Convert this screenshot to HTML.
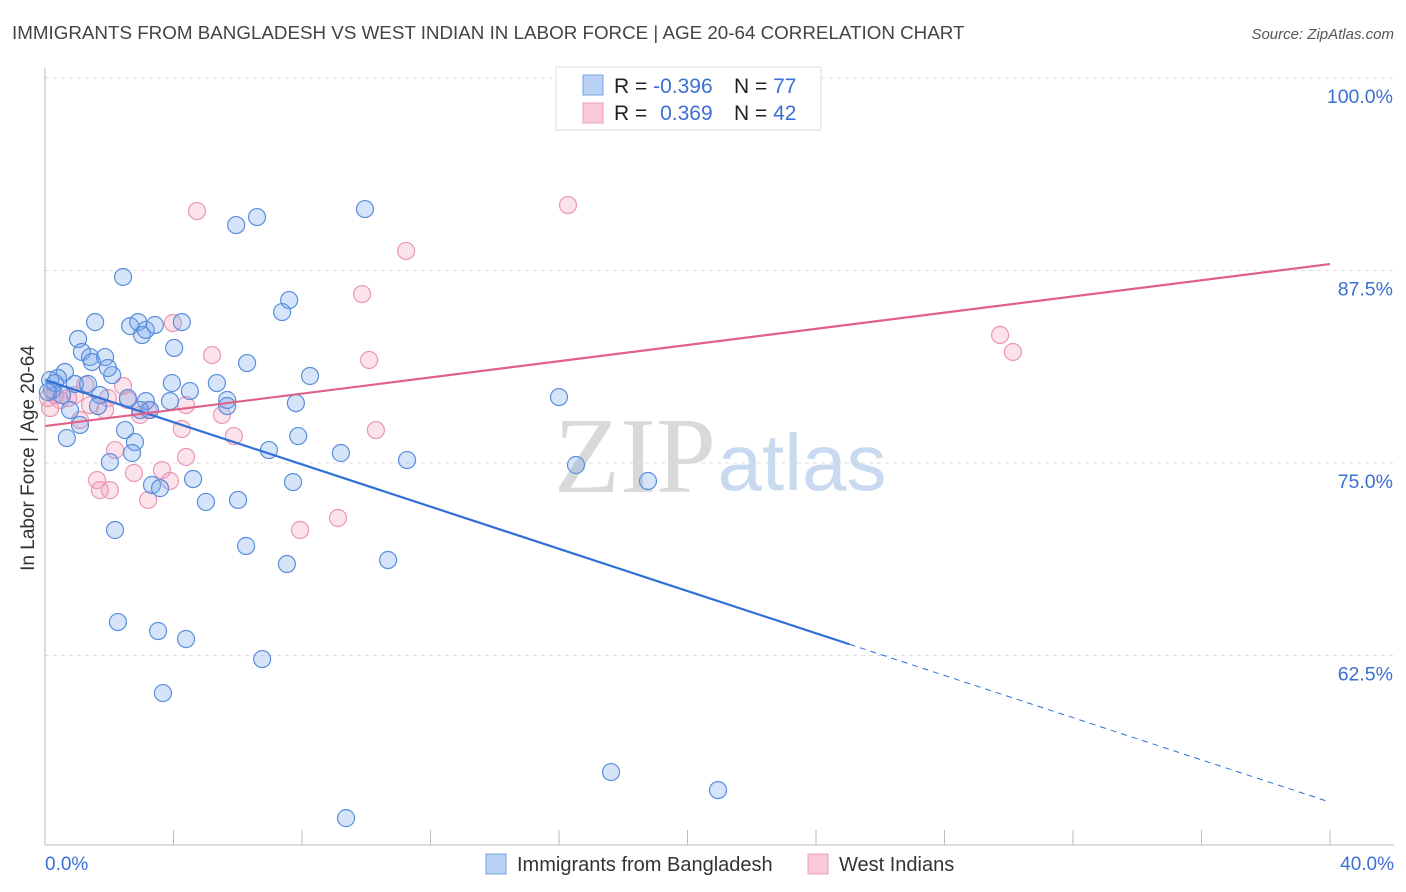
<!DOCTYPE html>
<html><head><meta charset="utf-8">
<style>
body{margin:0;background:#fff;font-family:"Liberation Sans",sans-serif;}
#wrap{position:relative;width:1406px;height:892px;overflow:hidden;}
svg{position:absolute;left:0;top:0;}
</style></head>
<body>
<div id="wrap">
<svg id="chart" width="1406" height="892">
<text x="12" y="39" font-size="18.8" fill="#444">IMMIGRANTS FROM BANGLADESH VS WEST INDIAN IN LABOR FORCE | AGE 20-64 CORRELATION CHART</text>
<text x="1394" y="39" font-size="15" fill="#555" font-style="italic" text-anchor="end">Source: ZipAtlas.com</text>
<text x="635" y="492" font-size="108" fill="#d9d9d9" font-family="Liberation Serif,serif" text-anchor="middle">ZIP</text>
<text x="802" y="490" font-size="80" fill="#c8d9f0" text-anchor="middle">atlas</text>
<text transform="translate(34,458) rotate(-90)" font-size="19" fill="#333" text-anchor="middle">In Labor Force | Age 20-64</text>
<g id="grid"></g><g id="marks"></g>
<line x1="45" y1="68" x2="45" y2="845" stroke="#bbb"/>
<line x1="45" y1="845" x2="1394" y2="845" stroke="#bbb"/>
<text x="45" y="870" font-size="19" fill="#3b6fd4">0.0%</text>
<text x="1394" y="870" font-size="19" fill="#3b6fd4" text-anchor="end">40.0%</text>
<g>
<rect x="486" y="854" width="20" height="20" fill="#b9d1f5" stroke="#7aa3e0"/>
<text x="517" y="871" font-size="20" fill="#333">Immigrants from Bangladesh</text>
<rect x="808" y="854" width="20" height="20" fill="#f9c9d8" stroke="#eaa0b8"/>
<text x="839" y="871" font-size="20" fill="#333">West Indians</text>
</g>
<g>
<rect x="556" y="67" width="265" height="63" fill="#fff" stroke="#ddd"/>
<rect x="583" y="75" width="20" height="20" fill="#b9d1f5" stroke="#7aa3e0"/>
<rect x="583" y="103" width="20" height="20" fill="#f9c9d8" stroke="#eaa0b8"/>
<text x="614" y="93" font-size="21" fill="#222">R = <tspan fill="#3b6fd4">-0.396</tspan></text>
<text x="734" y="93" font-size="21" fill="#222">N = <tspan fill="#3b6fd4">77</tspan></text>
<text x="614" y="120" font-size="21" fill="#222">R = <tspan fill="#3b6fd4" dx="7">0.369</tspan></text>
<text x="734" y="120" font-size="21" fill="#222">N = <tspan fill="#3b6fd4">42</tspan></text>
</g>
</svg>
</div>
<script>
const yTicks=[100,87.5,75,62.5];
const yTickLabels=["100.0%","87.5%","75.0%","62.5%"];
const xTickVals=[0,4,8,12,16,20,24,28,32,36,40];
const blueX=[2.43,1.56,1.03,1.15,1.40,1.46,1.87,0.62,0.40,0.16,0.31,0.22,0.93,1.34,1.71,0.78,1.09,0.68,2.09,2.65,2.90,3.02,3.14,3.42,4.26,4.02,3.95,2.49,2.80,2.71,2.02,3.33,3.58,4.61,5.01,6.01,2.18,2.27,3.52,4.39,3.67,6.76,6.26,7.53,7.72,6.97,7.88,7.81,8.25,7.38,7.60,6.29,5.35,4.51,5.67,5.67,3.89,3.14,3.27,5.95,6.60,9.96,9.21,11.27,10.68,16.00,16.53,18.77,17.62,20.95,9.37,2.58,1.65,0.53,0.09,1.96,2.96];
const blueY=[87.08,84.15,83.05,82.21,81.88,81.56,81.88,80.91,80.52,80.39,80.19,79.74,80.13,80.13,79.41,78.44,77.47,76.62,80.71,83.89,84.15,83.31,83.64,83.96,84.15,82.47,80.19,77.14,76.36,75.65,75.06,73.57,73.37,73.96,72.47,72.60,70.65,64.67,64.09,63.57,60.06,62.27,69.61,68.44,73.76,75.84,76.75,78.89,80.65,84.80,85.58,81.49,80.19,79.67,79.09,78.70,79.02,79.02,78.44,90.45,90.97,91.49,75.65,75.19,68.70,79.28,74.87,73.83,54.93,53.76,51.94,79.22,78.70,79.41,79.61,81.17,78.44];
const pinkX=[4.73,16.28,11.24,9.87,29.73,30.13,10.09,5.20,3.98,2.43,2.58,4.39,5.51,5.88,10.30,4.26,2.96,3.21,2.18,2.77,3.64,4.39,3.89,3.21,1.62,1.71,2.02,7.94,9.12,1.87,1.25,0.47,0.16,0.93,1.40,0.72,0.31,1.09,1.96,0.09];
const pinkY=[91.36,91.75,88.77,85.97,83.31,82.21,81.69,82.01,84.09,80.00,79.09,78.76,78.12,76.75,77.14,77.21,78.12,78.44,75.84,74.35,74.54,75.39,73.83,72.60,73.89,73.24,73.24,70.65,71.43,78.44,80.06,79.09,78.57,79.41,78.76,79.22,79.41,77.79,79.22,79.22];
const blueTrend=[80.39,52.98];
const blueSolidEnd=25.04;
const pinkTrend=[77.4,87.92];

const NS="http://www.w3.org/2000/svg";
const sx=v=>45+v/40*1285;
const sy=v=>78+(100-v)*15.4;
function mk(tag,attrs,parent){const e=document.createElementNS(NS,tag);for(const k in attrs)e.setAttribute(k,attrs[k]);parent.appendChild(e);return e;}
const grid=document.getElementById('grid'),marks=document.getElementById('marks');
yTicks.forEach((t,i)=>{
  const l=mk('line',{x1:45,x2:1394,y1:sy(t),y2:sy(t),stroke:'#ddd','stroke-dasharray':'4,4'},grid);
  
  
  const tx=mk('text',{x:1393,y:sy(t)+25,'font-size':19.5,fill:'#3b6fd4','text-anchor':'end'},grid);
  tx.textContent=yTickLabels[i];
  
  
});
xTickVals.forEach(t=>{
  const l=mk('line',{x1:sx(t),x2:sx(t),y1:830,y2:845,stroke:'#bbb'},grid);
  
  
});
pinkX.forEach((x,i)=>{
  const c=mk('circle',{cx:sx(x),cy:sy(pinkY[i]),r:8.5,fill:'rgba(243,160,188,0.3)',stroke:'#e997b3','stroke-width':1.2},marks);
  
  
});
blueX.forEach((x,i)=>{
  const c=mk('circle',{cx:sx(x),cy:sy(blueY[i]),r:8.5,fill:'rgba(120,165,235,0.3)',stroke:'#5a8edb','stroke-width':1.2},marks);
  
  
});
const bAt=x=>blueTrend[0]+(blueTrend[1]-blueTrend[0])*x/40;
let l1=mk('line',{x1:sx(0),y1:sy(blueTrend[0]),x2:sx(blueSolidEnd),y2:sy(bAt(blueSolidEnd)),stroke:'#2f6fd6','stroke-width':2.2},marks);


let l2=mk('line',{x1:sx(blueSolidEnd),y1:sy(bAt(blueSolidEnd)),x2:sx(40),y2:sy(blueTrend[1]),stroke:'#2f6fd6','stroke-width':1,'stroke-dasharray':'6,5'},marks);


let l3=mk('line',{x1:sx(0),y1:sy(pinkTrend[0]),x2:sx(40),y2:sy(pinkTrend[1]),stroke:'#e0608a','stroke-width':2.2},marks);


</script>
</body></html>
